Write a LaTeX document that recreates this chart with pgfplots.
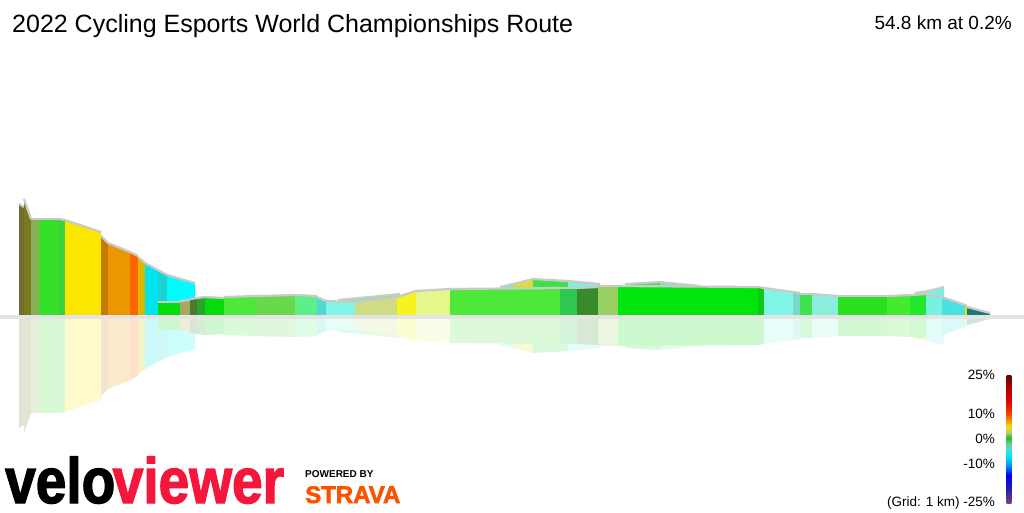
\documentclass[border=0pt]{standalone}
\usepackage{pgfplots}
\pgfplotsset{compat=1.18}
\usepackage{fontspec}
\setmainfont{Liberation Sans}
\newfontfamily\heavyfont[FakeBold=2.2]{Liberation Sans}
\definecolor{ridge}{HTML}{CACACA}
\definecolor{band}{HTML}{E4E4E4}
\definecolor{s01}{HTML}{6E6E30}
\definecolor{s02}{HTML}{7A7A1E}
\definecolor{s03}{HTML}{8AAE58}
\definecolor{s04}{HTML}{36E02A}
\definecolor{s05}{HTML}{3CD03C}
\definecolor{s06}{HTML}{FCE600}
\definecolor{s07}{HTML}{C67A06}
\definecolor{s08}{HTML}{EC9600}
\definecolor{s09}{HTML}{FC6600}
\definecolor{s10}{HTML}{D8B800}
\definecolor{s11}{HTML}{00E4EE}
\definecolor{s12}{HTML}{1AD4D4}
\definecolor{s13}{HTML}{00FCFC}
\definecolor{s14}{HTML}{04DC10}
\definecolor{s15}{HTML}{A8A860}
\definecolor{s16}{HTML}{4A7A32}
\definecolor{s17}{HTML}{2BA32A}
\definecolor{s19}{HTML}{4DE83A}
\definecolor{s20}{HTML}{6AD84B}
\definecolor{s21}{HTML}{5CEF8A}
\definecolor{s22}{HTML}{52D8D2}
\definecolor{s23}{HTML}{80F5E6}
\definecolor{s24}{HTML}{D0DC82}
\definecolor{s25}{HTML}{F6F420}
\definecolor{s26}{HTML}{E6F68A}
\definecolor{s27}{HTML}{4EE83A}
\definecolor{s28}{HTML}{2EC850}
\definecolor{s29}{HTML}{388A2A}
\definecolor{s30}{HTML}{98D062}
\definecolor{s31}{HTML}{00E60C}
\definecolor{s32}{HTML}{10C818}
\definecolor{s33}{HTML}{7AD8C8}
\definecolor{s34}{HTML}{40E050}
\definecolor{s35}{HTML}{8AEEDD}
\definecolor{s36}{HTML}{2AE020}
\definecolor{s37}{HTML}{44EA30}
\definecolor{s38}{HTML}{22E82E}
\definecolor{s39}{HTML}{7AF0E0}
\definecolor{s40}{HTML}{48E2E0}
\definecolor{s41}{HTML}{F0E000}
\definecolor{s42}{HTML}{187A78}
\definecolor{b1}{HTML}{7FE8B0}
\definecolor{b2}{HTML}{8AE870}
\definecolor{b3}{HTML}{60E8E8}
\definecolor{b4}{HTML}{D8E038}
\definecolor{b5}{HTML}{3EE04A}
\definecolor{b6}{HTML}{80F0D8}
\definecolor{b7}{HTML}{70E8B0}
\definecolor{b8}{HTML}{E8E020}
\definecolor{vvred}{HTML}{F5163C}
\definecolor{strava}{HTML}{FC5200}
\definecolor{cbA}{HTML}{804080}
\definecolor{cbB}{HTML}{1A1AB0}
\definecolor{cbC}{HTML}{0000F0}
\definecolor{cbD}{HTML}{0090F0}
\definecolor{cbE}{HTML}{00E8F0}
\definecolor{cbF}{HTML}{40E0E0}
\definecolor{cbG}{HTML}{70C8A0}
\definecolor{cbH}{HTML}{20C020}
\definecolor{cbI}{HTML}{C8C870}
\definecolor{cbJ}{HTML}{E8E000}
\definecolor{cbK}{HTML}{F09000}
\definecolor{cbL}{HTML}{F04000}
\definecolor{cbM}{HTML}{E00000}
\definecolor{cbN}{HTML}{B00000}
\definecolor{cbO}{HTML}{5A0A0A}
\pgfdeclareverticalshading{vvbar}{20bp}{color(0bp)=(cbA); color(25bp)=(cbA); color(31bp)=(cbB); color(36bp)=(cbC); color(39.5bp)=(cbD); color(43.4bp)=(cbE); color(45.7bp)=(cbF); color(48bp)=(cbG); color(50.4bp)=(cbH); color(52.7bp)=(cbI); color(55bp)=(cbJ); color(57.4bp)=(cbK); color(60bp)=(cbL); color(65bp)=(cbM); color(70bp)=(cbN); color(75bp)=(cbO); color(100bp)=(cbO)}
\newcommand{\seg}[5]{%
  \addplot[fill=#1!20!white, draw=none, y filter/.expression={632-y}] coordinates {(#2,315) (#2,#3) (#4,#5) (#4,315)} --cycle;
  \addplot[fill=#1, draw=none] coordinates {(#2,315) (#2,#3) (#4,#5) (#4,315)} --cycle;
  \addplot[draw=ridge, line width=2.2pt] coordinates {(#2,#3) (#4,#5)};
}
\begin{document}
\begin{tikzpicture}
\begin{axis}[
  width=1024pt, height=512pt, scale only axis,
  xmin=0, xmax=1024, ymin=0, ymax=512, y dir=reverse,
  hide axis, clip=false,
]
\fill[white] (axis cs:0,0) rectangle (axis cs:1024,512);
% behind (looping) parts of the route
\seg{b1}{338}{300}{370}{297}
\seg{b2}{370}{297}{400}{294}
\seg{b3}{500}{287}{513}{284}
\seg{b4}{513}{284}{533}{279}
\seg{b5}{533}{279}{568}{281}
\seg{b6}{568}{281}{600}{284}
\seg{b5}{625}{284}{660}{282}
\seg{b7}{660}{282}{700}{286}
\seg{b8}{915}{293}{928}{291}
\seg{s39}{928}{291}{944}{287}
% front profile
\seg{s01}{19}{204}{24}{207}
\seg{s02}{24}{199}{31}{219}
\seg{s03}{31}{219}{39}{219}
\seg{s04}{39}{219}{59}{219}
\seg{s05}{59}{219}{65}{220}
\seg{s06}{65}{220}{101}{232}
\seg{s07}{101}{236}{108}{243}
\seg{s08}{108}{243}{130}{252}
\seg{s09}{130}{252}{138}{256}
\seg{s10}{138}{257}{145}{263}
\seg{s11}{145}{263}{158}{270}
\seg{s12}{158}{270}{167}{275}
\seg{s13}{167}{275}{195}{283}
\seg{s14}{158}{302}{180}{302}
\seg{s15}{180}{301}{190}{300}
\seg{s16}{190}{299}{197}{298}
\seg{s17}{197}{298}{205}{297}
\seg{s14}{205}{297}{224}{298}
\seg{s19}{224}{297}{256}{296}
\seg{s20}{256}{296}{295}{295}
\seg{s21}{295}{295}{317}{296}
\seg{s22}{317}{297}{326}{301}
\seg{s23}{326}{301}{355}{302}
\seg{s24}{355}{302}{397}{297}
\seg{s25}{397}{297}{416}{291}
\seg{s26}{416}{291}{450}{289}
\seg{s27}{450}{289}{560}{288}
\seg{s28}{560}{288}{577}{288}
\seg{s29}{577}{288}{598}{287}
\seg{s30}{598}{286}{618}{286}
\seg{s31}{618}{286}{758}{287}
\seg{s32}{758}{287}{764}{288}
\seg{s23}{764}{288}{793}{292}
\seg{s33}{793}{292}{800}{293}
\seg{s34}{800}{294}{812}{294}
\seg{s35}{812}{294}{838}{296}
\seg{s36}{838}{296}{887}{296}
\seg{s37}{887}{296}{910}{295}
\seg{s38}{910}{295}{926}{294}
\seg{s39}{926}{294}{942}{297}
\seg{s40}{942}{297}{965}{305}
\seg{s41}{965}{305}{967}{306}
\seg{s42}{967}{307}{990}{313}
% ground band
\fill[band] (axis cs:0,315) rectangle (axis cs:1024,319);
% titles
\node[anchor=base west, inner sep=0pt, font=\fontsize{25}{30}\selectfont] at (axis cs:12,32) {2022 Cycling Esports World Championships Route};
\node[anchor=base east, inner sep=0pt, font=\fontsize{19}{23}\selectfont] at (axis cs:1012,29) {54.8 km at 0.2\%};
% gradient key
\shade[shading=vvbar] (axis cs:1003,375) rectangle (axis cs:1015,503);
\node[anchor=east, inner sep=0pt, font=\fontsize{13.5}{16}\selectfont] at (axis cs:995,375) {25\%};
\node[anchor=east, inner sep=0pt, font=\fontsize{13.5}{16}\selectfont] at (axis cs:995,414) {10\%};
\node[anchor=east, inner sep=0pt, font=\fontsize{13.5}{16}\selectfont] at (axis cs:995,439) {0\%};
\node[anchor=east, inner sep=0pt, font=\fontsize{13.5}{16}\selectfont] at (axis cs:995,464) {-10\%};
\node[anchor=east, inner sep=0pt, font=\fontsize{13.5}{16}\selectfont] at (axis cs:995,503) {(Grid: 1 km) -25\%};
% logos
\node[anchor=base west, inner sep=0pt, xscale=0.86, font=\fontsize{64}{70}\heavyfont\bfseries] at (axis cs:5,503) {\color{black}velo\kern-3pt\color{vvred}viewer};
\node[anchor=base west, inner sep=0pt, font=\fontsize{10}{12}\selectfont\bfseries] at (axis cs:305,477) {POWERED BY};
\node[anchor=base west, inner sep=0pt, font=\fontsize{24}{28}\heavyfont\bfseries, text=strava] at (axis cs:305,503) {STRAVA};
\end{axis}
\end{tikzpicture}
\end{document}
